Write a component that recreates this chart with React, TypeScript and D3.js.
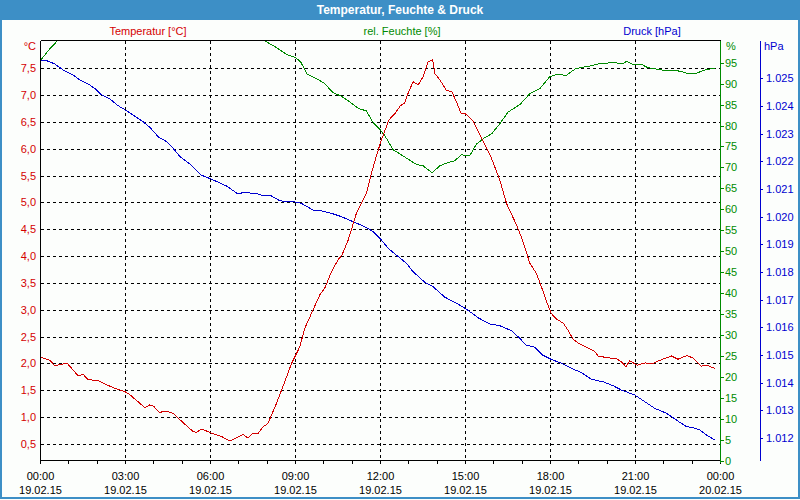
import React from "react";
import * as d3 from "d3";

// ---- data (hours after 19.02.15 00:00) ----
const tempTimes = [0,0.33,0.5,0.8,0.95,1.33,1.5,1.68,2.03,2.56,3.0,3.15,3.68,3.86,4.0,4.19,4.45,4.68,5.03,5.39,5.5,5.7,6.04,6.39,6.68,7.15,7.33,7.5,7.68,7.86,8.03,8.33,8.62,8.86,9.15,9.33,9.62,9.86,10.03,10.27,10.5,10.64,10.86,11.15,11.5,11.68,11.86,12.03,12.3,12.5,12.7,12.85,12.97,13.15,13.33,13.5,13.68,13.84,13.92,14.1,14.32,14.52,14.7,14.85,15.0,15.27,15.57,15.92,16.21,16.45,16.8,17.01,17.27,17.5,17.68,17.86,18.03,18.21,18.45,18.62,18.8,19.04,19.33,19.57,19.68,19.98,20.33,20.51,20.66,20.8,21.06,21.33,21.62,21.86,22.27,22.5,22.82,23.03,23.32,23.5,23.8];
const tempValues = [2.12,2.06,1.96,1.99,2.0,1.77,1.8,1.7,1.68,1.55,1.47,1.42,1.18,1.23,1.2,1.09,1.11,1.07,0.9,0.73,0.72,0.78,0.7,0.64,0.556,0.68,0.61,0.7,0.7,0.82,0.885,1.26,1.66,2.0,2.31,2.66,3.0,3.28,3.4,3.71,3.93,4.02,4.3,4.8,5.17,5.54,5.88,6.16,6.54,6.65,6.8,6.85,7.03,7.25,7.19,7.34,7.62,7.66,7.4,7.28,7.09,7.06,6.85,6.65,6.65,6.52,6.19,5.82,5.42,4.98,4.58,4.3,3.87,3.68,3.43,3.15,2.93,2.83,2.75,2.62,2.45,2.36,2.29,2.22,2.14,2.11,2.09,2.03,1.94,2.05,1.97,2.01,2.0,2.06,2.14,2.08,2.15,2.1,1.95,1.97,1.91];

const humTimes = [0,0.33,0.62,1,4,7.6,7.92,8.33,8.68,9.0,9.18,9.42,9.74,10.03,10.33,10.62,10.92,11.21,11.5,11.74,12.0,12.15,12.45,12.92,13.27,13.5,13.82,14.1,14.33,14.62,14.86,15.15,15.39,15.68,15.92,16.21,16.5,16.92,17.27,17.62,17.97,18.21,18.56,18.89,19.38,19.74,20.21,20.56,20.68,20.91,21.21,21.44,21.97,22.56,22.8,23.15,23.5,23.8];
const humValues = [95.6,98.3,100.4,101,101,101,100.2,98.6,97.0,96.2,95.2,92.2,91.2,90.0,87.8,87.0,85.6,84.1,83.5,80.7,78.9,77.6,74.2,72.2,70.7,70.4,68.7,70.4,71.0,71.6,73.0,72.8,75.6,77.1,78.0,80.4,83.2,85.0,87.6,88.8,91.6,92.2,92.0,93.6,94.2,94.8,95.0,94.8,95.3,94.6,94.6,93.8,93.2,93.0,92.5,92.5,93.4,93.6];

const pressTimes = [0,0.21,0.5,0.8,1.15,1.39,1.74,1.98,2.15,2.45,2.74,3.0,3.27,3.62,3.86,4.15,4.45,4.68,4.92,5.27,5.68,6.04,6.56,6.97,7.15,7.62,7.86,8.15,8.45,8.92,9.21,9.62,9.97,10.27,10.62,11.03,11.5,11.74,12.0,12.27,12.56,12.92,13.15,13.56,13.85,14.27,14.68,15.03,15.44,15.85,16.21,16.62,16.92,17.13,17.45,17.72,18.03,18.39,18.8,19.1,19.45,19.86,20.21,20.51,20.8,20.98,21.33,21.68,22.1,22.5,22.8,23.03,23.27,23.56,23.8];
const pressValues = [1025.66,1025.64,1025.52,1025.30,1025.12,1024.94,1024.76,1024.58,1024.40,1024.25,1024.01,1023.85,1023.67,1023.43,1023.23,1022.89,1022.71,1022.47,1022.17,1021.90,1021.50,1021.35,1021.11,1020.82,1020.87,1020.84,1020.76,1020.75,1020.57,1020.54,1020.48,1020.24,1020.20,1020.12,1020.00,1019.82,1019.61,1019.46,1019.19,1018.86,1018.61,1018.31,1018.01,1017.63,1017.47,1017.09,1016.87,1016.66,1016.35,1016.12,1016.06,1015.88,1015.60,1015.36,1015.28,1015.00,1014.84,1014.70,1014.49,1014.36,1014.12,1014.03,1013.89,1013.73,1013.62,1013.55,1013.31,1013.07,1012.89,1012.61,1012.41,1012.37,1012.29,1012.07,1011.93];

const tempTicks = [0.5,1,1.5,2,2.5,3,3.5,4,4.5,5,5.5,6,6.5,7,7.5];
const humTicks = [0,5,10,15,20,25,30,35,40,45,50,55,60,65,70,75,80,85,90,95];
const pressTicks = [1012,1013,1014,1015,1016,1017,1018,1019,1020,1021,1022,1023,1024,1025];

const titleText = "Temperatur, Feuchte & Druck";
const seriesTitles = ["Temperatur [°C]", "rel. Feuchte [%]", "Druck [hPa]"];

const start = new Date(2015, 1, 19, 0, 0);
const end = new Date(2015, 1, 20, 0, 0);
const toDate = (h: number) => new Date(start.getTime() + h * 3600000);

const de = d3.formatLocale({ decimal: ",", thousands: ".", grouping: [3], currency: ["", " €"] });
const fmtTemp = de.format(".1f");
const fmtPress = de.format(",d");
const fmtTime = d3.timeFormat("%H:%M");
const fmtDate = d3.timeFormat("%d.%m.%y");

const L = 40.5, R = 720.5, T = 40.5, B = 460.5;
const FONT = "'Liberation Sans', Arial, sans-serif";
const RED = "#d40000", GREEN = "#008a00", BLUE = "#0000d0";

export default function App() {
  const x = d3.scaleTime().domain([start, end]).range([L, R]);
  const yT = d3.scaleLinear().domain([0.193, 8.017]).range([B, T]);
  const yH = d3.scaleLinear().domain([0, 100.3]).range([B, T]);
  const yP = d3.scaleLinear().domain([1011.187, 1026.366]).range([B, T]);

  const tempLine = d3.line<number>().x((_, i) => x(toDate(tempTimes[i]))).y((d) => yT(d));
  const humLine = d3.line<number>().x((_, i) => x(toDate(humTimes[i]))).y((d) => yH(d));
  const pressLine = d3.line<number>().x((_, i) => x(toDate(pressTimes[i]))).y((d) => yP(d));

  const majorTicks = x.ticks(d3.timeHour.every(3)!);
  const minorTicks = x.ticks(d3.timeHour.every(1)!);

  return (
    <svg width={800} height={500} style={{ position: "absolute", left: 0, top: 0 }} fontFamily={FONT}>
      <rect x={0} y={0} width={800} height={500} fill="#fcfefc" />
      <rect x={0} y={0} width={800} height={20} fill="#3d8fc6" />
      <rect x={1} y={1} width={798} height={497} fill="none" stroke="#3d8fc6" strokeWidth={2} />
      <text x={400} y={10} textAnchor="middle" dominantBaseline="central" fill="#fff" fontWeight="bold" fontSize={12}>
        {titleText}
      </text>

      <text x={148} y={31} textAnchor="middle" dominantBaseline="central" fill={RED} fontSize={11}>{seriesTitles[0]}</text>
      <text x={402} y={31} textAnchor="middle" dominantBaseline="central" fill={GREEN} fontSize={11}>{seriesTitles[1]}</text>
      <text x={652} y={31} textAnchor="middle" dominantBaseline="central" fill={BLUE} fontSize={11}>{seriesTitles[2]}</text>

      {/* gridlines */}
      <g stroke="#000" strokeWidth={1} strokeDasharray="3,3" shapeRendering="crispEdges">
        {tempTicks.map((v) => (
          <line key={"h" + v} x1={L} x2={R} y1={Math.round(yT(v)) + 0.5} y2={Math.round(yT(v)) + 0.5} />
        ))}
        {majorTicks.slice(1, -1).map((d) => (
          <line key={"v" + d.getTime()} x1={x(d)} x2={x(d)} y1={T} y2={B} />
        ))}
      </g>

      <defs>
        <clipPath id="plotClip">
          <rect x={L} y={T} width={R - L} height={B - T} />
        </clipPath>
      </defs>
      <g clipPath="url(#plotClip)" fill="none" strokeWidth={1} shapeRendering="crispEdges">
        <path d={pressLine(pressValues) || ""} stroke={BLUE} />
        <path d={humLine(humValues) || ""} stroke={GREEN} />
        <path d={tempLine(tempValues) || ""} stroke={RED} />
      </g>

      {/* plot frame */}
      <g stroke="#000" shapeRendering="crispEdges">
        <line x1={L} x2={R} y1={T} y2={T} />
        <line x1={L} x2={R} y1={B} y2={B} />
        <line x1={L} x2={L} y1={T} y2={B + 2} />
        {minorTicks.map((d) => (
          <line key={"m" + d.getTime()} x1={x(d)} x2={x(d)} y1={B} y2={B + 3} />
        ))}
      </g>

      {/* temperature axis */}
      <text x={36} y={46} textAnchor="end" dominantBaseline="central" fill={RED} fontSize={11}>°C</text>
      {tempTicks.map((v) => (
        <text key={"tl" + v} x={36} y={yT(v)} textAnchor="end" dominantBaseline="central" fill={RED} fontSize={11}>
          {fmtTemp(v)}
        </text>
      ))}

      {/* humidity axis */}
      <line x1={R} x2={R} y1={T} y2={B + 2} stroke={GREEN} shapeRendering="crispEdges" />
      <text x={726} y={46} dominantBaseline="central" fill={GREEN} fontSize={11}>%</text>
      {humTicks.map((v) => (
        <g key={"hl" + v}>
          <line x1={R} x2={R + 3} y1={Math.round(yH(v)) + 0.5} y2={Math.round(yH(v)) + 0.5} stroke={GREEN} shapeRendering="crispEdges" />
          <text x={725} y={yH(v)} dominantBaseline="central" fill={GREEN} fontSize={11}>{v}</text>
        </g>
      ))}

      {/* pressure axis */}
      <line x1={760.5} x2={760.5} y1={T} y2={B} stroke={BLUE} shapeRendering="crispEdges" />
      <text x={764} y={46} dominantBaseline="central" fill={BLUE} fontSize={11}>hPa</text>
      {pressTicks.map((v) => (
        <g key={"pl" + v}>
          <line x1={760.5} x2={763} y1={Math.round(yP(v)) + 0.5} y2={Math.round(yP(v)) + 0.5} stroke={BLUE} shapeRendering="crispEdges" />
          <text x={766} y={yP(v)} dominantBaseline="central" fill={BLUE} fontSize={11}>{fmtPress(v)}</text>
        </g>
      ))}

      {/* x axis labels */}
      {majorTicks.map((d) => (
        <g key={"xl" + d.getTime()}>
          <text x={x(d)} y={476} textAnchor="middle" dominantBaseline="central" fill="#000" fontSize={11}>{fmtTime(d)}</text>
          <text x={x(d)} y={490} textAnchor="middle" dominantBaseline="central" fill="#000" fontSize={11}>{fmtDate(d)}</text>
        </g>
      ))}
    </svg>
  );
}
